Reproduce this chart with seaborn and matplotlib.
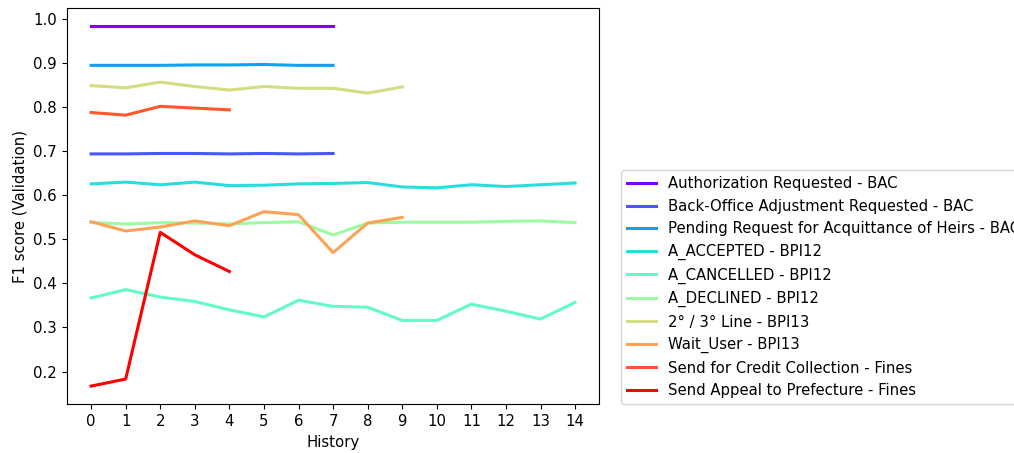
import numpy as np
import pandas as pd
import matplotlib
matplotlib.use("Agg")
import matplotlib.pyplot as plt
import seaborn as sns

labels = [
    "Authorization Requested - BAC",
    "Back-Office Adjustment Requested - BAC",
    "Pending Request for Acquittance of Heirs - BAC",
    "A_ACCEPTED - BPI12",
    "A_CANCELLED - BPI12",
    "A_DECLINED - BPI12",
    "2° / 3° Line - BPI13",
    "Wait_User - BPI13",
    "Send for Credit Collection - Fines",
    "Send Appeal to Prefecture - Fines",
]

auth_req = [0.984, 0.984, 0.984, 0.984, 0.984, 0.984, 0.984, 0.984]
back_office = [0.694, 0.694, 0.695, 0.695, 0.694, 0.695, 0.694, 0.695]
pending_req = [0.895, 0.895, 0.895, 0.896, 0.896, 0.897, 0.895, 0.895]
a_accepted = [0.626, 0.630, 0.624, 0.630, 0.622, 0.623, 0.626, 0.627, 0.629,
              0.619, 0.617, 0.624, 0.620, 0.624, 0.628]
a_cancelled = [0.367, 0.386, 0.369, 0.359, 0.340, 0.324, 0.362, 0.348, 0.346,
               0.316, 0.316, 0.353, 0.337, 0.319, 0.357]
a_declined = [0.538, 0.535, 0.538, 0.537, 0.535, 0.538, 0.540, 0.510, 0.537,
              0.539, 0.539, 0.539, 0.541, 0.542, 0.538]
line_23 = [0.849, 0.844, 0.857, 0.847, 0.839, 0.847, 0.843, 0.843, 0.832, 0.846]
wait_user = [0.540, 0.519, 0.528, 0.542, 0.531, 0.563, 0.556, 0.470, 0.537, 0.550]
credit_coll = [0.788, 0.782, 0.802, 0.798, 0.794]
appeal_pref = [0.167, 0.183, 0.516, 0.465, 0.427]

series = [auth_req, back_office, pending_req, a_accepted, a_cancelled,
          a_declined, line_23, wait_user, credit_coll, appeal_pref]

colors = plt.cm.rainbow(np.linspace(0, 1, len(series)))

plt.rcParams["font.size"] = 10.7
plt.rcParams["xtick.major.size"] = 3.8
plt.rcParams["ytick.major.size"] = 3.8

fig = plt.figure(figsize=(10.14, 4.53), dpi=100)
ax = fig.add_axes([0.066, 0.108, 0.525, 0.874])

for lab, vals, col in zip(labels, series, colors):
    df = pd.DataFrame({"History": np.arange(len(vals)), "F1": vals})
    sns.lineplot(data=df, x="History", y="F1", ax=ax, color=col, label=lab,
                 linewidth=2.2)

ax.set_xticks(range(15))
ax.set_xlabel("History")
ax.set_ylabel("F1 score (Validation)")
ax.legend(loc="lower left", bbox_to_anchor=(1.04, 0), borderaxespad=0)

fig.savefig("out.png", dpi=100)
